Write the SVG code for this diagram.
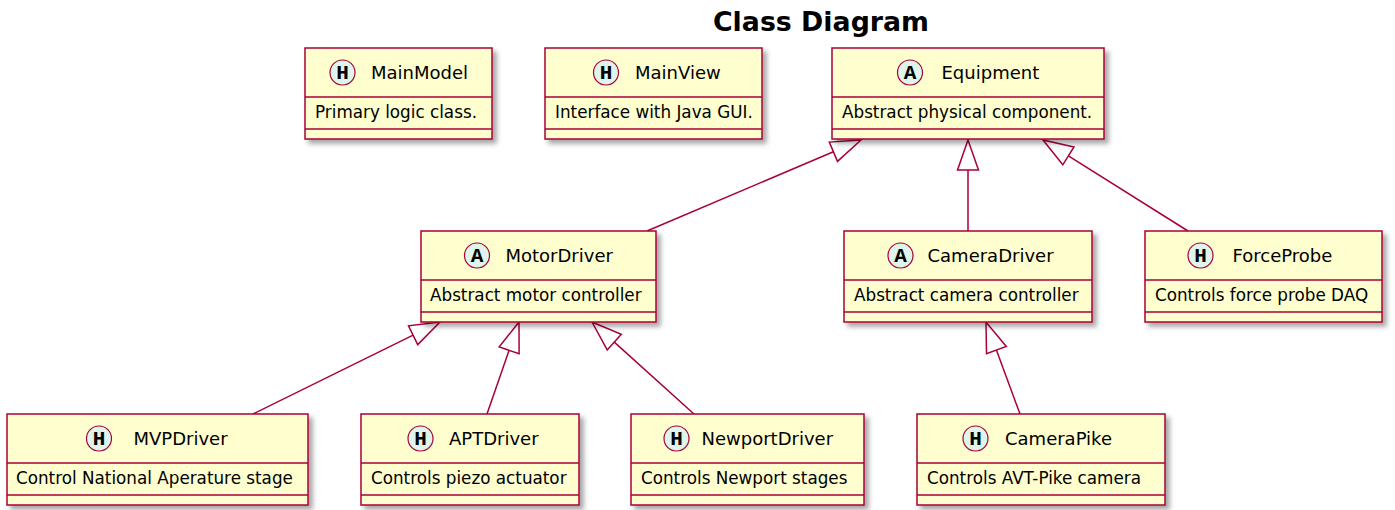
<svg xmlns="http://www.w3.org/2000/svg" width="1395" height="510" viewBox="0 0 1395 510">
<style>
.box{fill:#FEFECE;stroke:#A80036;stroke-width:1.5;filter:url(#sh)}
.div{stroke:#A80036;stroke-width:1.5}
.spot{fill:#DFF5EC;stroke:#A80036;stroke-width:1.2}
.sl{font-family:"Liberation Mono","DejaVu Sans Mono",monospace;font-weight:bold;font-size:21px;text-anchor:middle;fill:#000}
.nm{font-family:"DejaVu Sans",sans-serif;font-size:18px;fill:#000}
.bd{font-family:"DejaVu Sans",sans-serif;font-size:16.8px;fill:#000}
.title{font-family:"DejaVu Sans",sans-serif;font-weight:bold;font-size:26.8px;text-anchor:middle;fill:#000}
.ln{stroke:#A80036;stroke-width:1.5;fill:none}
.hd{fill:#FFFFFF;stroke:#A80036;stroke-width:1.5}
</style>
<defs>
<filter id="sh" x="-10%" y="-10%" width="130%" height="140%">
<feDropShadow dx="4" dy="4" stdDeviation="2.5" flood-color="#000" flood-opacity="0.35"/>
</filter>
</defs>
<rect width="1395" height="510" fill="#FFFFFF"/>
<text class="title" x="821" y="31">Class Diagram</text>

<g id="connectors">
<line class="ln" x1="647" y1="231" x2="833.4" y2="151.7"/>
<polygon class="hd" points="861,140 837.5,161.4 829.3,142.1"/>
<line class="ln" x1="968" y1="231" x2="968" y2="170"/>
<polygon class="hd" points="968,140 957.5,170 978.5,170"/>
<line class="ln" x1="1188" y1="231" x2="1068.4" y2="155.9"/>
<polygon class="hd" points="1043,140 1062.8,164.8 1074,147"/>
<line class="ln" x1="253" y1="414" x2="413.1" y2="335.2"/>
<polygon class="hd" points="440,322 408.5,325.8 417.7,344.6"/>
<line class="ln" x1="487" y1="414" x2="509.1" y2="350.3"/>
<polygon class="hd" points="519,322 519.1,353.8 499.2,346.9"/>
<line class="ln" x1="694" y1="414" x2="614.3" y2="342.1"/>
<polygon class="hd" points="592,322 607.2,349.9 621.3,334.3"/>
<line class="ln" x1="1020" y1="414" x2="996.4" y2="350.1"/>
<polygon class="hd" points="986,322 986.5,353.8 1006.3,346.5"/>
</g>

<g id="MainModel">
<rect class="box" x="305" y="48" width="187" height="91"/>
<line class="div" x1="305" y1="97" x2="492" y2="97"/>
<line class="div" x1="305" y1="129" x2="492" y2="129"/>
<circle class="spot" cx="342.5" cy="72.5" r="12.5"/>
<text class="sl" x="342.5" y="79">H</text>
<text class="nm" x="371" y="79">MainModel</text>
<text class="bd" x="315" y="118">Primary logic class.</text>
</g>

<g id="MainView">
<rect class="box" x="545" y="48" width="217" height="91"/>
<line class="div" x1="545" y1="97" x2="762" y2="97"/>
<line class="div" x1="545" y1="129" x2="762" y2="129"/>
<circle class="spot" cx="606" cy="72.5" r="12.5"/>
<text class="sl" x="606" y="79">H</text>
<text class="nm" x="635" y="79">MainView</text>
<text class="bd" x="555" y="118">Interface with Java GUI.</text>
</g>

<g id="Equipment">
<rect class="box" x="832" y="48" width="272" height="91"/>
<line class="div" x1="832" y1="97" x2="1104" y2="97"/>
<line class="div" x1="832" y1="129" x2="1104" y2="129"/>
<circle class="spot" cx="910" cy="72.5" r="12.5"/>
<text class="sl" x="910" y="79">A</text>
<text class="nm" x="941.5" y="79">Equipment</text>
<text class="bd" x="842" y="118">Abstract physical component.</text>
</g>

<g id="MotorDriver">
<rect class="box" x="421" y="231" width="235" height="91"/>
<line class="div" x1="421" y1="280" x2="656" y2="280"/>
<line class="div" x1="421" y1="312" x2="656" y2="312"/>
<circle class="spot" cx="477" cy="255.5" r="12.5"/>
<text class="sl" x="477" y="262">A</text>
<text class="nm" x="505.5" y="262">MotorDriver</text>
<text class="bd" x="430" y="301">Abstract motor controller</text>
</g>

<g id="CameraDriver">
<rect class="box" x="844" y="231" width="248" height="91"/>
<line class="div" x1="844" y1="280" x2="1092" y2="280"/>
<line class="div" x1="844" y1="312" x2="1092" y2="312"/>
<circle class="spot" cx="900.5" cy="255.5" r="12.5"/>
<text class="sl" x="900.5" y="262">A</text>
<text class="nm" x="927.5" y="262">CameraDriver</text>
<text class="bd" x="854" y="301">Abstract camera controller</text>
</g>

<g id="ForceProbe">
<rect class="box" x="1145" y="231" width="237" height="91"/>
<line class="div" x1="1145" y1="280" x2="1382" y2="280"/>
<line class="div" x1="1145" y1="312" x2="1382" y2="312"/>
<circle class="spot" cx="1200.5" cy="255.5" r="12.5"/>
<text class="sl" x="1200.5" y="262">H</text>
<text class="nm" x="1232.5" y="262">ForceProbe</text>
<text class="bd" x="1155" y="301">Controls force probe DAQ</text>
</g>

<g id="MVPDriver">
<rect class="box" x="7" y="414" width="301" height="91"/>
<line class="div" x1="7" y1="463" x2="308" y2="463"/>
<line class="div" x1="7" y1="495" x2="308" y2="495"/>
<circle class="spot" cx="99" cy="438.5" r="12.5"/>
<text class="sl" x="99" y="445">H</text>
<text class="nm" x="133.5" y="445">MVPDriver</text>
<text class="bd" x="16" y="484">Control National Aperature stage</text>
</g>

<g id="APTDriver">
<rect class="box" x="361" y="414" width="218" height="91"/>
<line class="div" x1="361" y1="463" x2="579" y2="463"/>
<line class="div" x1="361" y1="495" x2="579" y2="495"/>
<circle class="spot" cx="420.5" cy="438.5" r="12.5"/>
<text class="sl" x="420.5" y="445">H</text>
<text class="nm" x="449" y="445">APTDriver</text>
<text class="bd" x="371" y="484">Controls piezo actuator</text>
</g>

<g id="NewportDriver">
<rect class="box" x="631" y="414" width="233" height="91"/>
<line class="div" x1="631" y1="463" x2="864" y2="463"/>
<line class="div" x1="631" y1="495" x2="864" y2="495"/>
<circle class="spot" cx="676.5" cy="438.5" r="12.5"/>
<text class="sl" x="676.5" y="445">H</text>
<text class="nm" x="701.5" y="445">NewportDriver</text>
<text class="bd" x="641" y="484">Controls Newport stages</text>
</g>

<g id="CameraPike">
<rect class="box" x="917" y="414" width="248" height="91"/>
<line class="div" x1="917" y1="463" x2="1165" y2="463"/>
<line class="div" x1="917" y1="495" x2="1165" y2="495"/>
<circle class="spot" cx="975.5" cy="438.5" r="12.5"/>
<text class="sl" x="975.5" y="445">H</text>
<text class="nm" x="1005" y="445">CameraPike</text>
<text class="bd" x="927" y="484">Controls AVT-Pike camera</text>
</g>
</svg>
